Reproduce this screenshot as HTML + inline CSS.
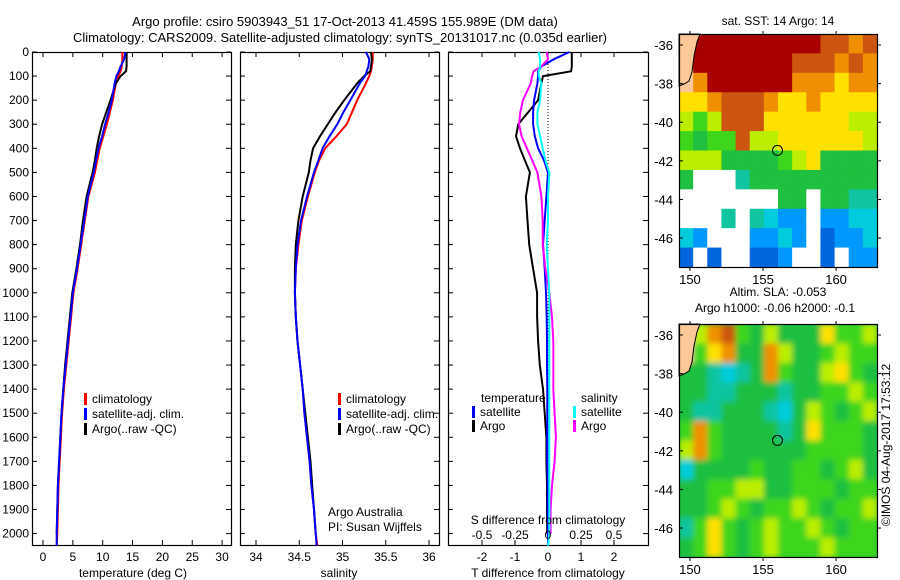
<!DOCTYPE html>
<html><head><meta charset="utf-8"><style>
html,body{margin:0;padding:0;background:#fff;}
svg{display:block;font-family:"Liberation Sans",sans-serif;}
text{font-size:12px;fill:#000;}
</style></head><body>
<svg id="chart" width="900" height="580" viewBox="0 0 900 580" xmlns="http://www.w3.org/2000/svg">
<defs>
<filter id="blur" x="0" y="0" width="1" height="1"><feGaussianBlur stdDeviation="3"/></filter>
<clipPath id="clip2"><rect x="679" y="324" width="198" height="233"/></clipPath>
</defs>
<text x="345" y="26" text-anchor="middle" style="font-size:13px">Argo profile: csiro 5903943_51 17-Oct-2013 41.459S 155.989E (DM data)</text>
<text x="340" y="42" text-anchor="middle" style="font-size:13px">Climatology: CARS2009. Satellite-adjusted climatology: synTS_20131017.nc (0.035d earlier)</text>
<g id="g"></g>
</svg>
<script>
const depths=[0,30,60,80,100,130,200,250,300,350,400,450,500,600,700,800,900,1000,1100,1200,1300,1400,1500,1600,1700,1800,1900,2000,2050];
const tempClim=[13.3,13.3,13.2,13.0,12.6,12.2,11.7,11.2,10.7,10.1,9.5,9.1,8.7,7.6,7.0,6.4,5.8,5.1,4.7,4.3,3.9,3.5,3.2,3.0,2.8,2.6,2.5,2.4,2.3];
const tempSat=[13.8,13.6,13.0,12.7,12.3,12.0,11.5,11.0,10.4,9.9,9.3,8.9,8.5,7.5,6.9,6.3,5.7,5.0,4.6,4.2,3.8,3.4,3.1,2.9,2.7,2.5,2.4,2.3,2.3];
const tempArgo=[14.0,14.0,14.0,13.9,13.0,12.2,11.3,10.6,9.9,9.4,9.0,8.7,8.3,7.3,6.7,6.2,5.6,4.9,4.5,4.1,3.7,3.4,3.1,2.9,2.7,2.5,2.4,2.3,null];
const salClim=[35.35,35.35,35.34,35.33,35.31,35.27,35.17,35.11,35.05,34.93,34.80,34.73,34.68,34.60,34.53,34.49,34.46,34.45,34.46,34.48,34.51,34.54,34.56,34.59,34.62,34.64,34.67,34.69,34.71];
const salSat=[35.27,35.31,35.30,35.28,35.26,35.20,35.09,35.01,34.94,34.85,34.77,34.72,34.67,34.59,34.52,34.48,34.46,34.45,34.46,34.48,34.51,34.54,34.56,34.59,34.62,34.64,34.67,34.69,34.70];
const salArgo=[35.33,35.34,35.33,35.32,35.25,35.17,35.02,34.92,34.83,34.74,34.66,34.63,34.61,34.54,34.49,34.46,34.45,34.45,34.46,34.48,34.51,34.54,34.57,34.60,34.63,34.65,34.67,34.69,null];
const dTArgo=[0.72,0.72,0.72,0.70,-0.15,-0.2,-0.3,-0.6,-0.9,-0.97,-0.85,-0.7,-0.55,-0.67,-0.62,-0.57,-0.45,-0.33,-0.33,-0.3,-0.25,-0.15,-0.1,-0.05,-0.05,-0.03,-0.03,-0.02,null];
const dTSat=[0.65,0.18,-0.2,-0.3,-0.3,-0.32,-0.42,-0.45,-0.45,-0.4,-0.3,-0.12,0,-0.05,-0.1,-0.15,-0.1,-0.06,-0.04,-0.03,-0.03,-0.02,-0.02,-0.02,-0.02,-0.01,-0.01,0,0];
const dSArgo=[-0.01,0.0,-0.05,-0.11,-0.12,-0.13,-0.19,-0.21,-0.22,-0.2,-0.16,-0.12,-0.08,-0.05,-0.04,-0.04,-0.02,0.01,0.03,0.04,0.04,0.04,0.05,0.06,0.05,0.03,0.02,0.02,null];
const dSSat=[-0.07,-0.06,-0.06,-0.07,-0.07,-0.05,-0.06,-0.08,-0.08,-0.06,-0.04,-0.02,0.01,0.0,0.0,-0.01,0.0,0.01,0.01,0.01,0.01,0.01,0.01,0.01,0.01,0.01,0.01,0.01,0.0];
const depthTicks=[0,100,200,300,400,500,600,700,800,900,1000,1100,1200,1300,1400,1500,1600,1700,1800,1900,2000];
const tTicks=[0,5,10,15,20,25,30];
const sTicks=[34,34.5,35,35.5,36];
const sTickLabels=["34","34.5","35","35.5","36"];
const dTTicks=[-2,-1,0,1,2];
const dSTicks=[-0.5,-0.25,0,0.25,0.5];
const dSTickLabels=["-0.5","-0.25","0","0.25","0.5"];
const latTicks=[-36,-38,-40,-42,-44,-46];
const lonTicks=[150,155,160];
const sstGrid=["LBBBBBBBBBAA9A","LBBBBBBBAAA9A9","L9BBBBBB999899","889AAA98898888","767AAA88888877","6566A778888887","77755556785555","5...4555555555",".......55.5544","...4.4322.2233","32...2232.1223","1.1..112..1.22"];
const slaGrid=["L79A6575558667","L6895597556766","55434596557865","55445554556676","54455543576567","69655554586665","79655555566665","35555655665675","55667755666566","55676566765667","46865676676566","56865676667666"];
const argoLon=155.989, argoLat=-41.459;

const NS="http://www.w3.org/2000/svg";
const G=document.getElementById('g');
function mk(tag,attrs,parent){const e=document.createElementNS(NS,tag);for(const k in attrs)e.setAttribute(k,attrs[k]);(parent||G).appendChild(e);return e;}
function txt(s,x,y,anchor,parent){const e=mk('text',{x:x,y:y,'text-anchor':anchor||'start'},parent);e.textContent=s;return e;}
const Y0=52,Y1=545;
const yD=d=>Y0+d*0.2408;
const P1={l:32,r:231},P2={l:240,r:439},P3={l:448,r:648};
const xT=v=>43+v*5.97;
const xSal=v=>256+(v-34)*86.5;
const xDT=v=>548+v*33;
const xDS=v=>548+v*132;

function frame(p,name){
  const r=mk('rect',{x:p.l+0.5,y:Y0+0.5,width:p.r-p.l,height:Y1-Y0,fill:'none',stroke:'#000','stroke-width':1.2});
  
  
  depthTicks.forEach(d=>{const y=yD(d);
    mk('line',{x1:p.l,x2:p.l+5,y1:y,y2:y,stroke:'#000'});
    mk('line',{x1:p.r-5,x2:p.r,y1:y,y2:y,stroke:'#000'});});
}
function xticks(p,vals,labels,fx,name,ly){
  const g=mk('g',{});
  
  
  vals.forEach((v,i)=>{const x=fx(v);
    mk('line',{x1:x,x2:x,y1:Y0,y2:Y0+5,stroke:'#000'},g);
    mk('line',{x1:x,x2:x,y1:Y1-5,y2:Y1,stroke:'#000'},g);
    txt(labels[i],x,ly||561,'middle',g);});
}
function series(vals,fx,color,name,w){
  let pts=[];
  vals.forEach((v,i)=>{if(v!==null)pts.push(fx(v).toFixed(1)+','+yD(depths[i]).toFixed(1));});
  const e=mk('polyline',{points:pts.join(' '),fill:'none',stroke:color,'stroke-width':w||2,'stroke-linejoin':'miter'});
  
  
}
function legend(x,y,color,label,name){
  const g=mk('g',{});
  
  
  mk('rect',{x:x,y:y-10,width:3,height:12,fill:color},g);
  txt(label,x+8,y,'start',g);
}
const dl=mk('g',{});


depthTicks.forEach(d=>txt(String(d),29,yD(d)+4,'end',dl));

frame(P1,'temperature-panel');
xticks(P1,tTicks,tTicks.map(String),xT,'temperature-x-ticks');
series(tempClim,xT,'#ff0000','temp-climatology-line');
series(tempArgo,xT,'#000000','temp-argo-line');
series(tempSat,xT,'#0000ff','temp-satellite-line');
txt('temperature (deg C)',133,577,'middle');
legend(84,403,'#ff0000','climatology','legend-climatology');
legend(84,418,'#0000ff','satellite-adj. clim.','legend-satellite');
legend(84,433,'#000000','Argo(..raw -QC)','legend-argo');

frame(P2,'salinity-panel');
xticks(P2,sTicks,sTickLabels,xSal,'salinity-x-ticks');
series(salClim,xSal,'#ff0000','sal-climatology-line');
series(salArgo,xSal,'#000000','sal-argo-line');
series(salSat,xSal,'#0000ff','sal-satellite-line');
txt('salinity',339,577,'middle');
legend(338,403,'#ff0000','climatology','legend-climatology-2');
legend(338,418,'#0000ff','satellite-adj. clim.','legend-satellite-2');
legend(338,433,'#000000','Argo(..raw -QC)','legend-argo-2');
txt('Argo Australia',328,516,'start');
txt('PI: Susan Wijffels',328,531,'start');

frame(P3,'difference-panel');
xticks(P3,dTTicks,dTTicks.map(String),xDT,'t-diff-x-ticks');
mk('line',{x1:548,x2:548,y1:Y0,y2:Y1,stroke:'#000','stroke-dasharray':'1,2'});
series(dTArgo,xDT,'#000000','t-diff-argo-line');
series(dTSat,xDT,'#0000ff','t-diff-satellite-line');
series(dSArgo,xDS,'#ff00ff','s-diff-argo-line');
series(dSSat,xDS,'#00ffff','s-diff-satellite-line');
const sl=mk('g',{});


dSTicks.forEach((v,i)=>txt(dSTickLabels[i],xDS(v),539,'middle',sl));
txt('S difference from climatology',548,524,'middle');
txt('T difference from climatology',548,577,'middle');
txt('temperature',481,402,'start');
txt('salinity',581,402,'start');
legend(472,416,'#0000ff','satellite','legend-t-satellite');
legend(472,430,'#000000','Argo','legend-t-argo');
legend(573,416,'#00ffff','satellite','legend-s-satellite');
legend(573,430,'#ff00ff','Argo','legend-s-argo');

const palette={'0':'#0033aa','1':'#0066dd','2':'#0099ff','3':'#00ccdd','4':'#11c4a0','5':'#1fbf3f','6':'#3ed61a','7':'#bbee00','8':'#ffe000','9':'#f09000','A':'#cc5510','B':'#a80000','L':'#fcc898','.':'#ffffff'};
function map(top,grid,name,title1,title2,smooth){
  const L=679,R=877,T=top,B=top+233;
  const lonL=149.25,lonR=162.8,latT=-35.43,latB=-47.5;
  const mx=v=>L+(v-lonL)/(lonR-lonL)*(R-L);
  const my=v=>T+(v-latT)/(latB-latT)*(B-T);
  const g=mk('g',{});
  
  
  let cg=g;
  if(smooth){const outer=mk('g',{'clip-path':'url(#clip2)'},g);mk('rect',{x:L,y:T,width:R-L,height:B-T,fill:palette['5']},outer);cg=mk('g',{filter:'url(#blur)'},outer);}
  const rows=grid.length,cols=grid[0].length,cw=(R-L)/cols,ch=(B-T)/rows;
  grid.forEach((row,r)=>{for(let c=0;c<cols;c++){
    const cell=mk('rect',{x:(L+c*cw).toFixed(2),y:(T+r*ch).toFixed(2),width:(cw+0.6).toFixed(2),height:(ch+0.6).toFixed(2),fill:palette[row[c]]},cg);
    
    }});
  mk('polygon',{points:L+','+T+' '+(L+21)+','+T+' '+(L+18)+','+(T+8)+' '+(L+15)+','+(T+22)+' '+(L+13)+','+(T+38)+' '+(L+10)+','+(T+47)+' '+(L+5)+','+(T+50)+' '+L+','+(T+52),fill:palette.L,stroke:'#000','stroke-width':1},g);
  mk('rect',{x:L+0.5,y:T+0.5,width:R-L,height:B-T,fill:'none',stroke:'#000','stroke-width':1.2},g);
  latTicks.forEach(v=>{const y=my(v);mk('line',{x1:L,x2:L+4,y1:y,y2:y,stroke:'#000'},g);mk('line',{x1:R,x2:R+4,y1:y,y2:y,stroke:'#000'},g);txt(String(v),673,y+5,'end',g).style.fontSize='13px';});
  lonTicks.forEach(v=>{const x=mx(v);mk('line',{x1:x,x2:x,y1:T-3,y2:T+1,stroke:'#000'},g);mk('line',{x1:x,x2:x,y1:B,y2:B+4,stroke:'#000'},g);txt(String(v),x,B+17,'middle',g).style.fontSize='13px';});
  mk('circle',{cx:mx(argoLon),cy:my(argoLat),r:5,fill:'none',stroke:'#000','stroke-width':1},g);
  txt(title1,778,title2?T-28:T-9,'middle',g);
  if(title2)txt(title2,775,T-12,'middle',g);
}
map(34,sstGrid,'sst-map','sat. SST: 14  Argo: 14',null,false);
map(324,slaGrid,'sla-map','Altim. SLA: -0.053','Argo h1000: -0.06  h2000: -0.1',true);
const cr=txt('©IMOS 04-Aug-2017 17:53:12',0,0,'middle');
cr.setAttribute('transform','translate(890,445) rotate(-90)');


</script>
</body></html>
